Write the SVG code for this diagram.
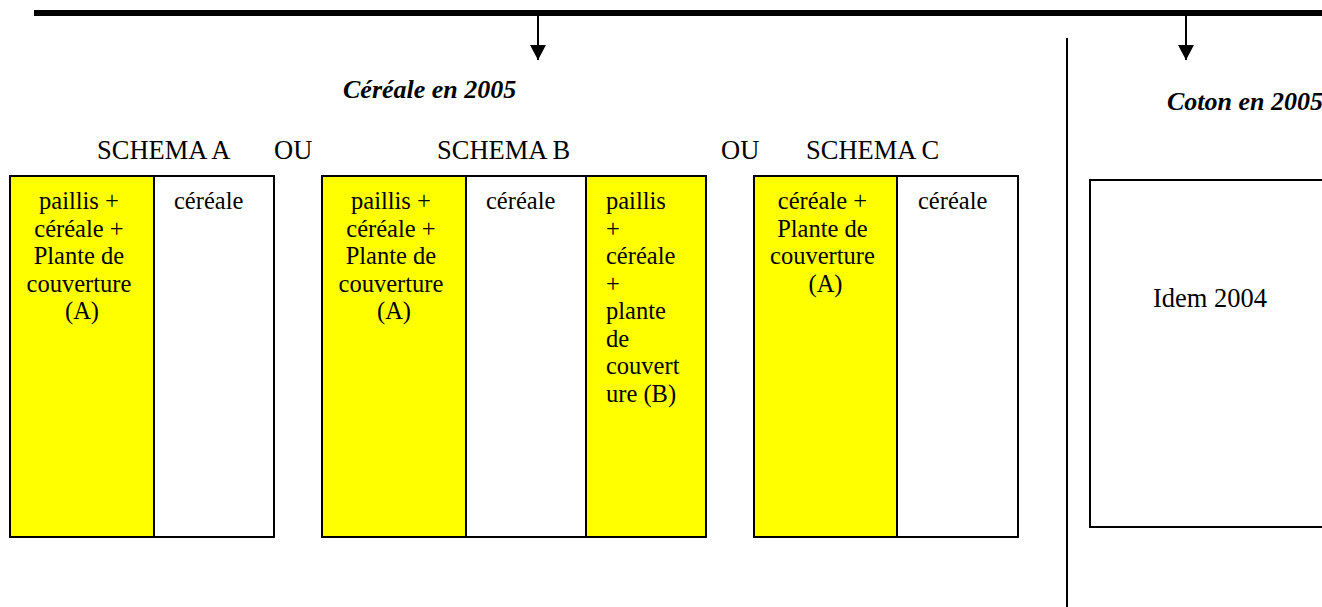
<svg xmlns="http://www.w3.org/2000/svg" width="1322" height="607" viewBox="0 0 1322 607">
  <style>
    .cell { stroke: #000; stroke-width: 2; }
    .y { fill: #ffff00; }
    .w { fill: #ffffff; }
    .t { font-family: "Liberation Serif", "Times New Roman", serif; font-size: 24.5px; fill: #000; }
    .h { font-family: "Liberation Serif", "Times New Roman", serif; font-size: 26.5px; fill: #000; }
    .title { font-family: "Liberation Serif", "Times New Roman", serif; font-size: 26px; font-weight: bold; font-style: italic; fill: #000; }
    .c { text-anchor: middle; }
    .link { stroke: #000; stroke-width: 2; fill: none; }
  </style>
  <defs>
    <marker id="arrow" markerWidth="8" markerHeight="8" refX="7.5" refY="4" orient="auto" markerUnits="strokeWidth">
      <path d="M0,0 L7.5,4 L0,8 Z" fill="#000"/>
    </marker>
  </defs>
  <rect width="1322" height="607" fill="#fff"/>

  <!-- connectors: main bar, drops and separator -->
  <g id="connectors">
    <line x1="34" y1="13" x2="1322" y2="13" stroke="#000" stroke-width="6"/>
    <line class="link" x1="538" y1="16" x2="538" y2="60" marker-end="url(#arrow)"/>
    <line class="link" x1="1186" y1="16" x2="1186" y2="60" marker-end="url(#arrow)"/>
    <line class="link" x1="1067" y1="38" x2="1067" y2="607"/>
  </g>

  <g id="title-cereale">
    <text class="title" x="343" y="98">Céréale en 2005</text>
  </g>
  <g id="title-coton">
    <text class="title" x="1167" y="110">Coton en 2005</text>
  </g>

  <g id="headings">
    <text class="h" x="97" y="159">SCHEMA A</text>
    <text class="h" x="274" y="159">OU</text>
    <text class="h" x="437" y="159">SCHEMA B</text>
    <text class="h" x="721" y="159">OU</text>
    <text class="h" x="806" y="159">SCHEMA C</text>
  </g>

  <!-- Schema A -->
  <g id="schema-a">
    <rect class="cell y" x="10" y="176" width="144" height="361"/>
    <rect class="cell w" x="154" y="176" width="120" height="361"/>
    <text class="t c" x="82" y="209">
      <tspan x="82" y="209">paillis +</tspan>
      <tspan x="82" dy="27.5">céréale +</tspan>
      <tspan x="82" dy="27.5">Plante de</tspan>
      <tspan x="82" dy="27.5">couverture</tspan>
      <tspan x="82" dy="27.5">(A)</tspan>
    </text>
    <text class="t" x="174" y="209">céréale</text>
  </g>

  <!-- Schema B -->
  <g id="schema-b">
    <rect class="cell y" x="322" y="176" width="144" height="361"/>
    <rect class="cell w" x="466" y="176" width="120" height="361"/>
    <rect class="cell y" x="586" y="176" width="120" height="361"/>
    <text class="t c" x="394" y="209">
      <tspan x="394" y="209">paillis +</tspan>
      <tspan x="394" dy="27.5">céréale +</tspan>
      <tspan x="394" dy="27.5">Plante de</tspan>
      <tspan x="394" dy="27.5">couverture</tspan>
      <tspan x="394" dy="27.5">(A)</tspan>
    </text>
    <text class="t" x="486" y="209">céréale</text>
    <text class="t" x="606" y="209">
      <tspan x="606" y="209">paillis</tspan>
      <tspan x="606" dy="27.5">+</tspan>
      <tspan x="606" dy="27.5">céréale</tspan>
      <tspan x="606" dy="27.5">+</tspan>
      <tspan x="606" dy="27.5">plante</tspan>
      <tspan x="606" dy="27.5">de</tspan>
      <tspan x="606" dy="27.5">couvert</tspan>
      <tspan x="606" dy="27.5">ure (B)</tspan>
    </text>
  </g>

  <!-- Schema C -->
  <g id="schema-c">
    <rect class="cell y" x="754" y="176" width="143" height="361"/>
    <rect class="cell w" x="897" y="176" width="121" height="361"/>
    <text class="t c" x="825.5" y="209">
      <tspan x="825.5" y="209">céréale +</tspan>
      <tspan x="825.5" dy="27.5">Plante de</tspan>
      <tspan x="825.5" dy="27.5">couverture</tspan>
      <tspan x="825.5" dy="27.5">(A)</tspan>
    </text>
    <text class="t" x="918" y="209">céréale</text>
  </g>

  <!-- Coton -->
  <g id="coton">
    <rect class="cell w" x="1090" y="180" width="240" height="347"/>
    <text class="h" x="1153" y="307">Idem 2004</text>
  </g>
</svg>
